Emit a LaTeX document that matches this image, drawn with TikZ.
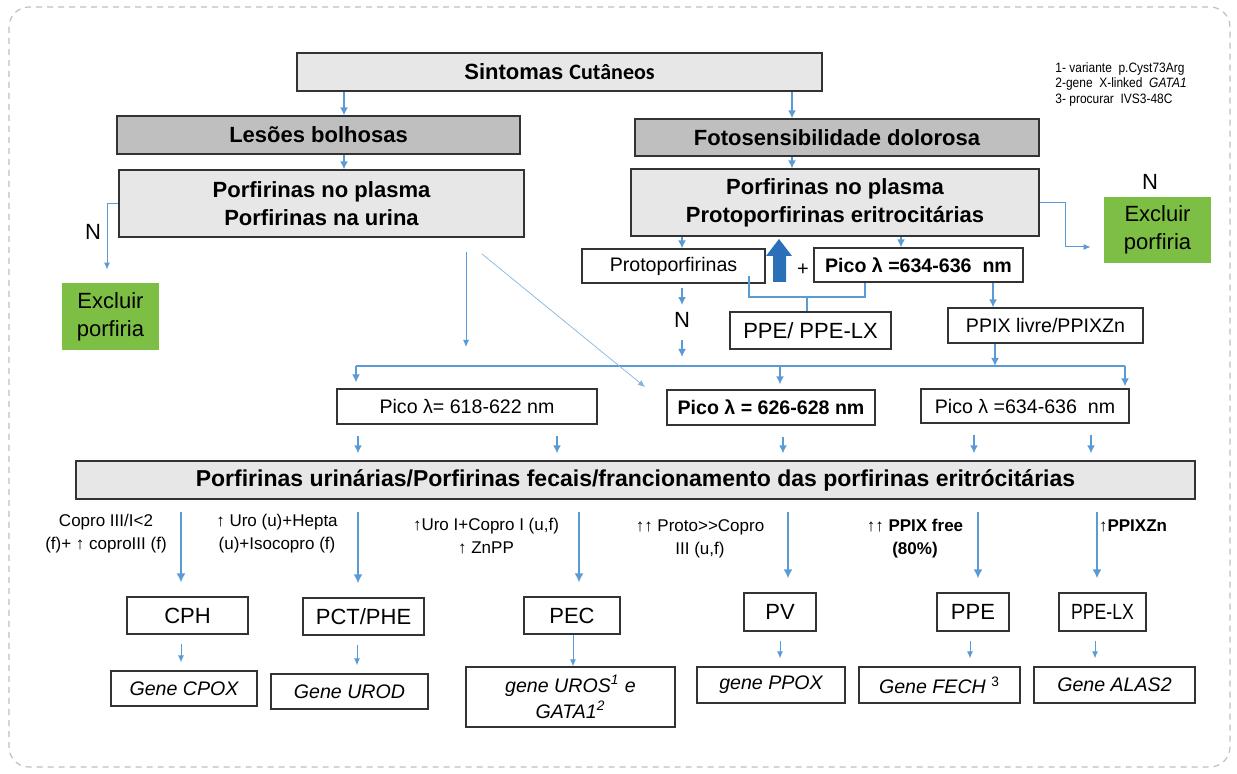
\documentclass[tikz,border=0pt]{standalone}
\usepackage{fontspec}
\setmainfont{Liberation Sans}
\newfontfamily\calfont{Carlito}
\newfontfamily\narrowfont[FakeStretch=0.8]{Liberation Sans}
\newfontfamily\notefont[FakeStretch=0.88]{Liberation Sans}
\usepackage{tikz}
\usetikzlibrary{positioning,arrows.meta,calc}
\usepackage{xcolor}
\definecolor{boxgray}{HTML}{E7E7E7}
\definecolor{headgray}{HTML}{BFBFBF}
\definecolor{exclgreen}{HTML}{7CBF44}
\definecolor{linkblue}{HTML}{5B9BD5}
\definecolor{bigblue}{HTML}{2A70B8}
\tikzstyle{plain}=[rectangle, draw=black!80, line width=0.6pt, fill=white, inner sep=0pt,
align=center, font=\fontsize{9.8}{12}\selectfont]
\tikzstyle{question}=[plain, fill=boxgray, font=\fontsize{11}{14}\selectfont\bfseries]
\tikzstyle{symptom}=[question, fill=headgray]
\tikzstyle{exclude}=[rectangle, fill=exclgreen, inner sep=0pt, align=center,
font=\fontsize{11}{14}\selectfont]
\tikzstyle{disease}=[plain, font=\fontsize{11}{13}\selectfont]
\tikzstyle{gene}=[plain, font=\fontsize{9.8}{13}\selectfont\itshape]
\tikzstyle{finding}=[align=center, inner sep=0pt, font=\fontsize{8.5}{11.5}\selectfont]
\tikzstyle{answer}=[inner sep=0pt, font=\fontsize{11}{13}\selectfont]
\tikzstyle{flow}=[draw=linkblue, line width=1pt, -{Latex[length=4pt,width=4pt]}]
\tikzstyle{thinflow}=[draw=linkblue, line width=0.5pt, -{Latex[length=3.5pt,width=3pt]}]
\tikzstyle{strongflow}=[draw=linkblue, line width=1.2pt, -{Latex[length=4.5pt,width=4.5pt]}]
\tikzstyle{link}=[draw=linkblue, line width=0.6pt]

\begin{document}
\begin{tikzpicture}[x=0.5pt, y=-0.5pt]
\useasboundingbox (0,0) rectangle (1237,774);
\draw[black!25, line width=0.6pt, dash pattern=on 3pt off 2.5pt, rounded corners=10pt]
    (9,7) rectangle (1230,767);

% symptoms
\node (1)[question, minimum width=262.5pt, minimum height=19pt] at (559.5,72)
    {Sintomas {\calfont Cutâneos}};
\node (2)[symptom, minimum width=201.5pt, minimum height=19pt] at (318.5,135) {Lesões bolhosas};
\node (3)[symptom, minimum width=202pt, minimum height=18.5pt] at (837,137.5) {Fotosensibilidade dolorosa};
\node (4)[question, minimum width=202.5pt, minimum height=33.5pt] at (321.5,203.5)
    {Porfirinas no plasma\\Porfirinas na urina};
\node (5)[question, minimum width=204pt, minimum height=33.5pt] at (835,202.5)
    {Porfirinas no plasma\\Protoporfirinas eritrocitárias};
\node (6)[exclude, minimum width=48.5pt, minimum height=33.5pt] at (110.5,316.5) {Excluir\\porfiria};
\node (7)[exclude, minimum width=53.5pt, minimum height=33pt] at (1157.5,230) {Excluir\\porfiria};
\node (n1)[answer] at (93,232) {N};
\node (n2)[answer] at (1150,182) {N};
\node (n3)[answer] at (682,320) {N};

% notes
\node (notes)[anchor=north west, align=left, inner sep=0pt, font=\fontsize{6.8}{7.8}\notefont]
    at (1055,62) {1- variante\ \ p.Cyst73Arg\\2-gene\ \ X-linked\ \ \textit{GATA1}\\3- procurar\ \ IVS3-48C};

% erythrocyte protoporphyrins
\node (8)[plain, minimum width=91.5pt, minimum height=17pt] at (673.5,266) {Protoporfirinas};
\node (9)[plain, font=\fontsize{9.8}{12}\selectfont\bfseries, minimum width=104.5pt, minimum height=17pt]
    at (918.5,265) {Pico λ =634-636\ \ nm};
\node (10)[plain, font=\fontsize{11}{13}\selectfont, minimum width=80.5pt, minimum height=18.5pt]
    at (810.5,330.5) {PPE/ PPE-LX};
\node (11)[plain, minimum width=97.5pt, minimum height=17.5pt] at (1045.5,325.5) {PPIX livre/PPIXZn};
\node (plus)[inner sep=0pt, font=\fontsize{10}{12}\selectfont] at (803,270) {+};
\fill[bigblue] (773,282) -- (773,256) -- (766,256) -- (779,239) -- (792,256) -- (786,256)
    -- (786,282) -- cycle;

% peaks
\node (12)[plain, minimum width=130pt, minimum height=17.5pt] at (467,406.5) {Pico λ= 618-622 nm};
\node (13)[plain, font=\fontsize{9.8}{12}\selectfont\bfseries, minimum width=104pt, minimum height=17.5pt]
    at (771,407.5) {Pico λ = 626-628 nm};
\node (14)[plain, minimum width=104pt, minimum height=17pt] at (1025,406) {Pico λ =634-636\ \ nm};

\node (15)[question, font=\fontsize{11.5}{14}\selectfont\bfseries, minimum width=559.5pt, minimum height=19pt]
    at (635.5,480)
    {Porfirinas urinárias/Porfirinas fecais/francionamento das porfirinas eritrócitárias};

% diagnoses
\node (16)[disease, minimum width=60.5pt, minimum height=18.5pt] at (187.5,615.5) {CPH};
\node (17)[disease, minimum width=60.5pt, minimum height=18.5pt] at (363.5,616.5) {PCT/PHE};
\node (18)[disease, minimum width=48pt, minimum height=18.5pt] at (572,615.5) {PEC};
\node (19)[disease, minimum width=36pt, minimum height=19pt] at (780,612) {PV};
\node (20)[disease, minimum width=36pt, minimum height=19pt] at (973,612) {PPE};
\node (21)[disease, font=\fontsize{11}{13}\narrowfont, minimum width=43.5pt, minimum height=19pt]
    at (1102.5,612) {PPE-LX};

\node (22)[gene, minimum width=73pt, minimum height=17.5pt] at (184,688.5) {Gene CPOX};
\node (23)[gene, minimum width=78.5pt, minimum height=17.5pt] at (349.5,691.5) {Gene UROD};
\node (24)[gene, minimum width=104.5pt, minimum height=30pt] at (570.5,697)
    {gene UROS\textsuperscript{1} e\\GATA1\textsuperscript{2}};
\node (25)[gene, minimum width=74pt, minimum height=18pt] at (771,685) {gene PPOX};
\node (26)[gene, minimum width=80.5pt, minimum height=18pt] at (939.5,685)
    {Gene FECH \textsuperscript{\upshape 3}};
\node (27)[gene, minimum width=80.5pt, minimum height=18pt] at (1114.5,685) {Gene ALAS2};

% findings
\node (f1)[finding] at (106,534) {Copro III/I<2\\(f)+ ↑ coproIII (f)};
\node (f2)[finding] at (277,534) {↑ Uro (u)+Hepta\\(u)+Isocopro (f)};
\node (f3)[finding] at (486,536) {↑Uro I+Copro I (u,f)\\↑ ZnPP};
\node (f4)[finding] at (700,539) {↑↑ Proto>{}>Copro\\III (u,f)};
\node (f5)[finding] at (915,539) {↑↑ \textbf{PPIX free}\\\textbf{(80\%)}};
\node (f6)[finding] at (1133,526) {↑\textbf{PPIXZn}};

% connectors
\draw[flow] (1.south -| 344,0) -- (2.north -| 344,0);
\draw[flow] (1.south -| 792,0) -- (3.north -| 792,0);
\draw[flow] (2.south -| 344,0) -- (4.north -| 344,0);
\draw[flow] (3.south -| 792,0) -- (5.north -| 792,0);
\draw[thinflow, shorten >=6.5pt] (4.west) -| (6.north -| 107,0);
\draw[thinflow, shorten >=6.5pt] (5.east) -- ++(26,0) |- ([yshift=-8.5pt]7.west);

\coordinate (b1) at (356,366);
\coordinate (b2) at (1125,366);
\draw[link] (b1) -- (b2);
\draw[thinflow, shorten <=7pt, shorten >=9.5pt] (4.south -| 466,0) -- (b1 -| 466,0);
\coordinate (d1) at (482,254);
\coordinate (d2) at (645,387);
\draw[thinflow, line width=0.35pt, draw=linkblue!75] (d1) -- (d2);

\draw[flow] (5.south -| 682,0) -- (8.north -| 682,0);
\draw[flow] (5.south -| 901,0) -- (9.north -| 901,0);
\draw[flow, shorten <=2pt, shorten >=3.5pt] (8.south -| n3) -- (n3.north);
\draw[flow, shorten <=6pt, shorten >=4.5pt] (n3.south) -- (b1 -| n3);
\coordinate (p1) at (749,276);
\coordinate (m) at (807,297);
\draw[link] (p1) |- (m) -| (9.south -| 865,0);
\draw[link] (m) -- (10.north -| m);
\draw[flow] (9.south -| 993,0) -- (11.north -| 993,0);
\draw[flow] (11.south -| 995,0) -- (b1 -| 995,0);

\draw[flow, shorten >=3pt] (b1) -- (12.north -| b1);
\draw[flow, shorten >=2.5pt] (b1 -| 780,0) -- (13.north -| 780,0);
\draw[flow, shorten >=1pt] (b2) -- (14.north -| b2);

\foreach \x/\n in {358/12, 557/12, 783/13, 974/14, 1091/14}
    \draw[flow, shorten <=5.5pt, shorten >=3.5pt] (\n.south -| \x,0) -- (15.north -| \x,0);

\foreach \x/\n in {181/16, 358/17, 579/18, 788/19, 978/20, 1097/21}
    \draw[strongflow, shorten <=6pt, shorten >=7pt] (15.south -| \x,0) -- (\n.north -| \x,0);

\foreach \x/\a/\b in {181/16/22, 357/17/23, 780/19/25, 970/20/26, 1095/21/27}
    \draw[thinflow, shorten <=4.5pt, shorten >=4pt] (\a.south -| \x,0) -- (\b.north -| \x,0);
\draw[thinflow] (18.south -| 573,0) -- (24.north -| 573,0);
\end{tikzpicture}
\end{document}
